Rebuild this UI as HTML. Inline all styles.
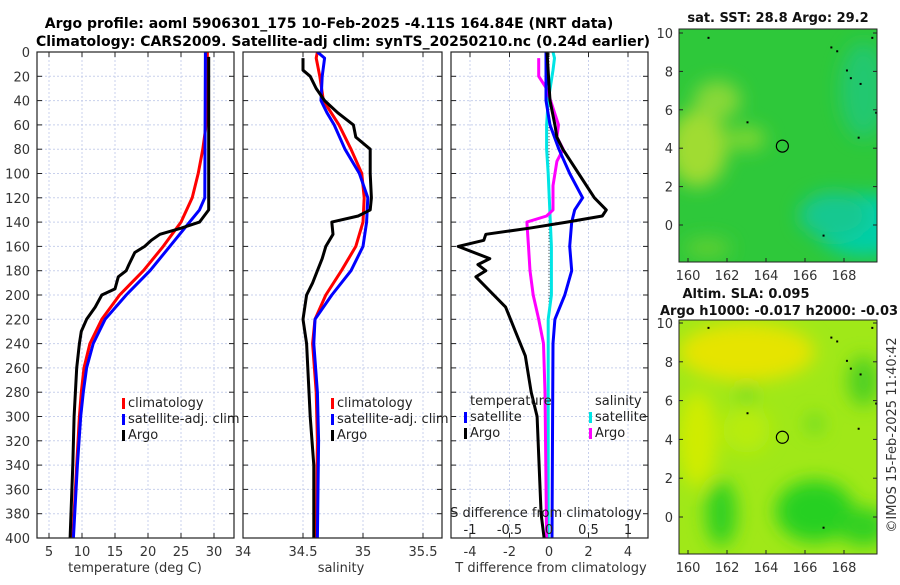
<!DOCTYPE html>
<html><head><meta charset="utf-8">
<style>
html,body{margin:0;padding:0;background:#fff;}
body{width:900px;height:580px;overflow:hidden;font-family:"Liberation Sans","DejaVu Sans",sans-serif;}
svg text{font-family:"DejaVu Sans","Liberation Sans",sans-serif;}
</style></head>
<body>
<svg id="fig" width="900" height="580" viewBox="0 0 900 580" xmlns="http://www.w3.org/2000/svg">
<defs>
<filter id="blur1" x="-50%" y="-50%" width="200%" height="200%"><feGaussianBlur stdDeviation="9"/></filter>
<clipPath id="clipTop"><rect x="679" y="29" width="198" height="233"/></clipPath>
<clipPath id="clipBot"><rect x="679" y="320" width="198" height="234"/></clipPath>
<clipPath id="clipP1"><rect x="37" y="52" width="197" height="486"/></clipPath>
<clipPath id="clipP2"><rect x="243" y="52" width="199" height="486"/></clipPath>
<clipPath id="clipP3"><rect x="451" y="52" width="197" height="486"/></clipPath>
</defs>
<text x="329" y="28" font-size="14" font-weight="bold" text-anchor="middle" fill="#000">Argo profile: aoml 5906301_175 10-Feb-2025 -4.11S 164.84E (NRT data)</text>
<text x="343" y="46" font-size="14" font-weight="bold" text-anchor="middle" fill="#000">Climatology: CARS2009. Satellite-adj clim: synTS_20250210.nc (0.24d earlier)</text>
<g id="p1"></g>
<g id="p2"></g>
<g id="p3"></g>
<g id="maps"></g>
<text transform="translate(896,435) rotate(-90)" font-size="13" text-anchor="middle" fill="#333">©IMOS 15-Feb-2025 11:40:42</text>
</svg>
<script>
// ---- data ----
const depthTicks = [0,20,40,60,80,100,120,140,160,180,200,220,240,260,280,300,320,340,360,380,400];
const tempTicks = [5,10,15,20,25,30];
const salTicks = [34,34.5,35,35.5];
const tdiffTicks = [-4,-2,0,2,4];
const sdiffTicks = [-1,-0.5,0,0.5,1];

const argoTDepth = [4,30,60,100,130,140,145,150,155,160,165,175,180,185,195,200,210,220,230,240,260,300,340,400];
const argoT = [29.2,29.2,29.2,29.2,29.2,27.8,25,21.8,20.5,19.5,18,17.1,16.7,15.5,15,13,12,10.7,9.9,9.6,9.2,8.8,8.6,8.2];
const climTDepth = [0,60,80,100,120,140,160,180,200,220,240,260,280,300,340,400];
const climT = [29,28.8,28.3,27.6,26.7,25,22.3,19.3,15.7,13,11.2,10.3,9.9,9.6,9.2,8.6];
const satTDepth = [0,120,130,140,160,180,200,220,240,260,280,300,340,400];
const satT = [28.7,28.6,27.8,26.3,23.3,20.3,16.7,13.5,11.7,10.7,10.2,9.8,9.3,8.7];

const argoSDepth = [5,15,20,30,40,50,60,65,70,80,100,120,130,135,140,150,160,170,180,190,200,220,240,260,300,340,400];
const argoS = [34.5,34.5,34.56,34.61,34.68,34.79,34.92,34.93,34.94,35.06,35.06,35.07,35.06,34.96,34.74,34.75,34.69,34.66,34.62,34.58,34.53,34.5,34.53,34.54,34.56,34.59,34.59];
const climSDepth = [0,5,20,40,60,80,100,120,140,160,180,200,220,240,280,320,400];
const climS = [34.62,34.61,34.64,34.67,34.8,34.9,34.99,35.01,35,34.94,34.82,34.69,34.6,34.58,34.61,34.62,34.61];
const satSDepth = [0,5,20,40,50,60,80,100,120,140,160,180,200,220,240,280,320,400];
const satS = [34.62,34.68,34.66,34.65,34.7,34.76,34.85,34.97,35.04,35.03,35,34.9,34.74,34.6,34.59,34.62,34.63,34.62];

const argoTdDepth = [0,40,60,70,80,100,120,130,135,140,145,150,155,160,170,175,180,185,195,210,230,250,280,300,340,380,400];
const argoTd = [-0.1,0.05,0.3,0.4,0.7,1.5,2.3,2.9,2.7,0.9,-1,-3.2,-3.3,-4.6,-3,-3.6,-3.2,-3.7,-3.1,-2.2,-1.7,-1.2,-0.9,-0.6,-0.5,-0.4,-0.25];
const satTdDepth = [0,40,60,80,100,120,130,140,160,180,200,220,240,300,400];
const satTd = [-0.15,-0.15,0.05,0.5,1.05,1.7,1.3,1.15,1.05,1.15,0.8,0.3,0.2,0.18,0.15];
const satSdDepth = [0,5,15,40,60,80,100,130,160,200,220,300,400];
const satSd = [0.05,0.07,0.05,-0.01,-0.03,-0.03,-0.01,0.01,0.03,0.03,-0.01,-0.01,-0.01];
const argoSdDepth = [5,20,30,60,70,80,90,110,130,135,140,160,180,200,220,240,280,340,400];
const argoSd = [-0.13,-0.13,-0.03,0.12,0.1,0.18,0.1,0.05,0.05,-0.03,-0.28,-0.26,-0.24,-0.2,-0.13,-0.07,-0.05,-0.04,-0.03];

// ---- helpers ----
const NS = "http://www.w3.org/2000/svg";
function mk(parent, tag, attrs){const e=document.createElementNS(NS,tag);for(const k in attrs)e.setAttribute(k,attrs[k]);parent.appendChild(e);return e;}
const Y0=52, Y1=538;
function yD(d){return Y0 + d*(Y1-Y0)/400;}
function xT(t){return 49+(t-5)*6.6;}
function xS(s){return 243+(s-34)*120;}
function xTd(v){return 549+v*19.75;}
function xSd(v){return 549+v*79;}

function frame(g, x0, x1){
  depthTicks.forEach(d=>{ if(d>0&&d<400){const l=mk(g,'line',{x1:x0,x2:x1,y1:yD(d),y2:yD(d),stroke:'#c8d0ec','stroke-width':1,'stroke-dasharray':'2,2'});
    
    }
    mk(g,'line',{x1:x0,x2:x0+5,y1:yD(d),y2:yD(d),stroke:'#222'});
    mk(g,'line',{x1:x1-5,x2:x1,y1:yD(d),y2:yD(d),stroke:'#222'});
  });
}
function vgrid(g, vals, fx, x0, x1){
  vals.forEach(v=>{const x=fx(v); if(x>x0+1&&x<x1-1){const l=mk(g,'line',{x1:x,x2:x,y1:Y0,y2:Y1,stroke:'#c8d0ec','stroke-width':1,'stroke-dasharray':'2,2'});
    
    }
    mk(g,'line',{x1:x,x2:x,y1:Y1,y2:Y1-5,stroke:'#222'});mk(g,'line',{x1:x,x2:x,y1:Y0,y2:Y0+5,stroke:'#222'});});
}
function box(g,x0,x1){const r=mk(g,'rect',{x:x0,y:Y0,width:x1-x0,height:Y1-Y0,fill:'none',stroke:'#222','stroke-width':1.2});
  
  }
function series(g, depths, vals, fx, color, name, clip){
  const pts=depths.map((d,i)=>fx(vals[i]).toFixed(1)+','+yD(d).toFixed(1)).join(' ');
  const p=mk(g,'polyline',{points:pts,fill:'none',stroke:color,'stroke-width':3,'stroke-linejoin':'round','clip-path':'url(#'+clip+')'});
  
  
}
function txt(g,x,y,s,opts){const t=mk(g,'text',Object.assign({x:x,y:y,'font-size':13,fill:'#333'},opts||{}));t.textContent=s;return t;}
function legendItem(g,x,y,color,label,name){
  mk(g,'rect',{x:x,y:y-9,width:3,height:11,fill:color});
  const t=txt(g,x+6,y,label,{'font-size':13,fill:'#222'});
  
  
}

// ---- panel 1 ----
const p1=document.getElementById('p1');
frame(p1,37,234); vgrid(p1,tempTicks,xT,37,234);
depthTicks.forEach(d=>{const t=txt(p1,30,yD(d)+5,String(d),{'text-anchor':'end'});
  
  });
tempTicks.forEach(v=>{const t=txt(p1,xT(v),556,String(v),{'text-anchor':'middle'});
  
  });
const t1=txt(p1,135,572,'temperature (deg C)',{'text-anchor':'middle'});


series(p1,climTDepth,climT,xT,'#ff0000','climatology-temp-line','clipP1');
series(p1,satTDepth,satT,xT,'#0000ff','satellite-temp-line','clipP1');
series(p1,argoTDepth,argoT,xT,'#000000','argo-temp-line','clipP1');
box(p1,37,234);
legendItem(p1,122,407,'#ff0000','climatology','legend-climatology');
legendItem(p1,122,423,'#0000ff','satellite-adj. clim','legend-satellite-adj');
legendItem(p1,122,439,'#000000','Argo','legend-argo');

// ---- panel 2 ----
const p2=document.getElementById('p2');
frame(p2,243,442); vgrid(p2,salTicks,xS,243,442);
salTicks.forEach(v=>{const t=txt(p2,xS(v),556,String(v),{'text-anchor':'middle'});
  
  });
const t2=txt(p2,341,572,'salinity',{'text-anchor':'middle'});


series(p2,climSDepth,climS,xS,'#ff0000','climatology-sal-line','clipP2');
series(p2,satSDepth,satS,xS,'#0000ff','satellite-sal-line','clipP2');
series(p2,argoSDepth,argoS,xS,'#000000','argo-sal-line','clipP2');
box(p2,243,442);
legendItem(p2,331,407,'#ff0000','climatology','legend-climatology');
legendItem(p2,331,423,'#0000ff','satellite-adj. clim','legend-satellite-adj');
legendItem(p2,331,439,'#000000','Argo','legend-argo');

// ---- panel 3 ----
const p3=document.getElementById('p3');
frame(p3,451,648); vgrid(p3,tdiffTicks,xTd,451,648);
const z=mk(p3,'line',{x1:xTd(0),x2:xTd(0),y1:Y0,y2:Y1,stroke:'#555','stroke-width':1,'stroke-dasharray':'1,2'});


tdiffTicks.forEach(v=>{const t=txt(p3,xTd(v),556,String(v),{'text-anchor':'middle'});
  
  });
const t3=txt(p3,551,572,'T difference from climatology',{'text-anchor':'middle'});


series(p3,satSdDepth,satSd,xSd,'#00e5e5','satellite-sdiff-line','clipP3');
series(p3,argoSdDepth,argoSd,xSd,'#ff00ff','argo-sdiff-line','clipP3');
series(p3,satTdDepth,satTd,xTd,'#0000ff','satellite-tdiff-line','clipP3');
series(p3,argoTdDepth,argoTd,xTd,'#000000','argo-tdiff-line','clipP3');
const t4=txt(p3,546,517,'S difference from climatology',{'text-anchor':'middle',fill:'#222'});


sdiffTicks.forEach(v=>{const t=txt(p3,xSd(v),534,String(v),{'text-anchor':'middle',fill:'#222'});
  
  });
box(p3,451,648);
const lt=txt(p3,470,405,'temperature',{fill:'#222'});


const ls=txt(p3,595,405,'salinity',{fill:'#222'});


legendItem(p3,464,421,'#0000ff','satellite','legend-temp-satellite');
legendItem(p3,464,437,'#000000','Argo','legend-temp-argo');
legendItem(p3,589,421,'#00e5e5','satellite','legend-sal-satellite');
legendItem(p3,589,437,'#ff00ff','Argo','legend-sal-argo');

// ---- maps ----
const lonTicks=[160,162,164,166,168];
const latTicks=[0,2,4,6,8,10];
const floatLon=164.84, floatLat=4.11;
const maps=document.getElementById('maps');
function mapAxes(yTop,yBot,lat10y,lat0y,clip,blobs,base,name){
  const g=mk(maps,'g',{});
  
  
  const xL=lon=>688+(lon-160)*19.5;
  const yL=lat=>lat0y+(lat10y-lat0y)*lat/10;
  const cg=mk(g,'g',{'clip-path':'url(#'+clip+')'});
  mk(cg,'rect',{x:679,y:yTop,width:198,height:yBot-yTop,fill:base});
  const bg=mk(cg,'g',{filter:'url(#blur1)'});
  blobs.forEach(b=>mk(bg,'ellipse',{cx:xL(b[0]),cy:yL(b[1]),rx:b[2]*19.5,ry:b[3]*19.3,fill:b[4]}));
  [[167.3,9.3],[167.6,9.1],[168.1,8.1],[168.3,7.7],[168.8,7.4],[169.6,5.9],[163,5.4],[168.7,4.6],[166.9,-0.5],[161,9.8],[169.4,9.8]].forEach(p=>mk(cg,'rect',{x:xL(p[0]),y:yL(p[1]),width:2,height:2,fill:'#000'}));
  const c=mk(g,'circle',{cx:xL(floatLon),cy:yL(floatLat),r:6,fill:'none',stroke:'#000','stroke-width':1.2});
  
  
  mk(g,'rect',{x:679,y:yTop,width:198,height:yBot-yTop,fill:'none',stroke:'#222'});
  lonTicks.forEach(v=>{mk(g,'line',{x1:xL(v),x2:xL(v),y1:yBot,y2:yBot-4,stroke:'#222'});
    const t=txt(g,xL(v),yBot+18,String(v),{'text-anchor':'middle'});
    
    });
  latTicks.forEach(v=>{mk(g,'line',{x1:679,x2:683,y1:yL(v),y2:yL(v),stroke:'#222'});mk(g,'line',{x1:873,x2:877,y1:yL(v),y2:yL(v),stroke:'#222'});
    const t=txt(g,673,yL(v)+5,String(v),{'text-anchor':'end'});
    
    });
  return g;
}
mapAxes(29,262,33,225,'clipTop',[
  [160.5,4,1.5,2,'#a0dc30'],[161.5,6.5,1.2,1,'#88d838'],[163,4.5,1,0.6,'#80d830'],
  [169,0,2.5,1.6,'#00cfa8'],[167.5,0.5,1.8,1.2,'#18c890'],[169,7,1.2,2.5,'#20c870'],[161,-1.2,1.2,0.5,'#60d030']
],'#2ec83a','sst-map');
mapAxes(320,554,323,517,'clipBot',[
  [163,8.5,3.5,1.5,'#e6e400'],[160.5,4,1,2.5,'#d0ec00'],[163,4.5,1.2,1.2,'#b8ec10'],
  [161.7,0.2,0.8,1.7,'#30d020'],[166.5,0.3,2,1.6,'#28d020'],[169,-0.5,1.3,1,'#30d020'],
  [169,7,0.8,1.3,'#50d020'],[163,6.3,0.4,0.5,'#60d828'],[166.5,4.8,0.4,0.5,'#60d828']
],'#a0e818','sla-map');
const mt1=txt(maps,778,22,'sat. SST: 28.8 Argo: 29.2',{'text-anchor':'middle','font-size':13,'font-weight':'bold',fill:'#111'});


const mt2=txt(maps,746,298,'Altim. SLA: 0.095',{'text-anchor':'middle','font-size':13,'font-weight':'bold',fill:'#111'});


const mt3=txt(maps,660,315,'Argo h1000: -0.017 h2000: -0.03',{'font-size':13,'font-weight':'bold',fill:'#111'});


</script>
</body></html>
